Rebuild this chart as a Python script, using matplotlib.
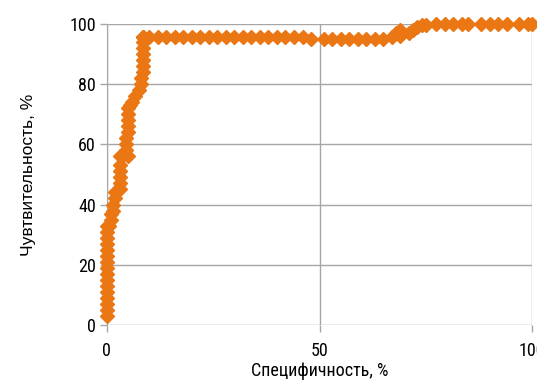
import matplotlib
matplotlib.use("Agg")
import matplotlib.pyplot as plt

# ROC points (x = specificity axis, y = sensitivity)
fpr = [0, 0, 0, 0, 0, 0, 0, 0, 0, 0, 0, 0, 0, 0, 0, 0,
       0.5, 1, 1, 1.5, 1.5, 2, 2, 3, 3, 3, 3, 3, 3.5, 5, 3, 4.5,
       4.5, 4.5, 5, 5, 5, 5, 5, 5.5, 6, 6.5, 7.5, 8, 8, 8.5,
       8.5, 8.5, 8.5, 8.5, 8.5, 8.5, 8.5, 8.5,
       10, 12, 14, 16, 18, 20, 22, 24, 26, 28, 30, 32, 34, 36, 38, 40,
       42, 44, 46, 48, 51, 53, 55, 57, 59, 61, 63, 65, 67, 68, 69, 69,
       71, 72, 73, 74, 75, 77.5, 79.5, 81.5, 83.5, 85,
       88, 90, 92, 94, 97, 99, 100]
tpr = [3, 5, 7, 9, 11, 13, 15, 17, 19, 21, 23, 25, 27, 29, 31, 33,
       33, 35, 37, 38, 40, 42, 44, 45, 47, 49, 51, 53, 56, 56, 56, 58,
       60, 62, 64, 66, 68, 70, 72, 73, 74, 76, 78, 80, 82, 84,
       86, 88, 90, 92, 94, 95.5, 95.5, 95.5,
       95.5, 95.5, 95.5, 95.5, 95.5, 95.5, 95.5, 95.5, 95.5, 95.5, 95.5, 95.5, 95.5, 95.5, 95.5, 95.5,
       95.5, 95.5, 95.5, 95, 95, 95, 95, 95, 95, 95, 95, 95, 95.5, 97, 96, 98,
       97, 98, 99, 99.5, 99.5, 100, 100, 100, 100, 100,
       100, 100, 100, 100, 100, 100, 100]

xticks = [0, 50, 100]
yticks = [0, 20, 40, 60, 80, 100]

narrow = ["Roboto Condensed", "DejaVu Sans"]
regular = ["Liberation Sans", "DejaVu Sans"]

orange = "#EA7614"
grid_c = "#A6A6A6"

fig = plt.figure(figsize=(5.37, 3.80), dpi=100)
ax = fig.add_axes([0.199, 0.145, 0.792, 0.792])

ax.plot(fpr, tpr, linestyle="none", marker="D", markersize=7.5,
        color=orange, markeredgecolor=orange, clip_on=False, zorder=3)

ax.set_xlim(0, 100)
ax.set_ylim(0, 100)
ax.set_xticks(xticks)
ax.set_yticks(yticks)
ax.grid(True, color=grid_c, linewidth=1)
for s in ["top", "right", "bottom"]:
    ax.spines[s].set_visible(False)
ax.spines["left"].set_color(grid_c)
ax.tick_params(colors=grid_c, length=5, width=1, labelcolor="black",
               labelsize=13, pad=3)
ax.tick_params(axis="x", pad=7)
for lab in ax.get_xticklabels() + ax.get_yticklabels():
    lab.set_family(narrow)

ax.set_xlabel("Специфичность, %", fontsize=13, family=narrow, labelpad=2)
ax.set_ylabel("Чувтвительность, %", fontsize=12.5, family=regular, labelpad=24)

fig.savefig("out.png", dpi=100)
